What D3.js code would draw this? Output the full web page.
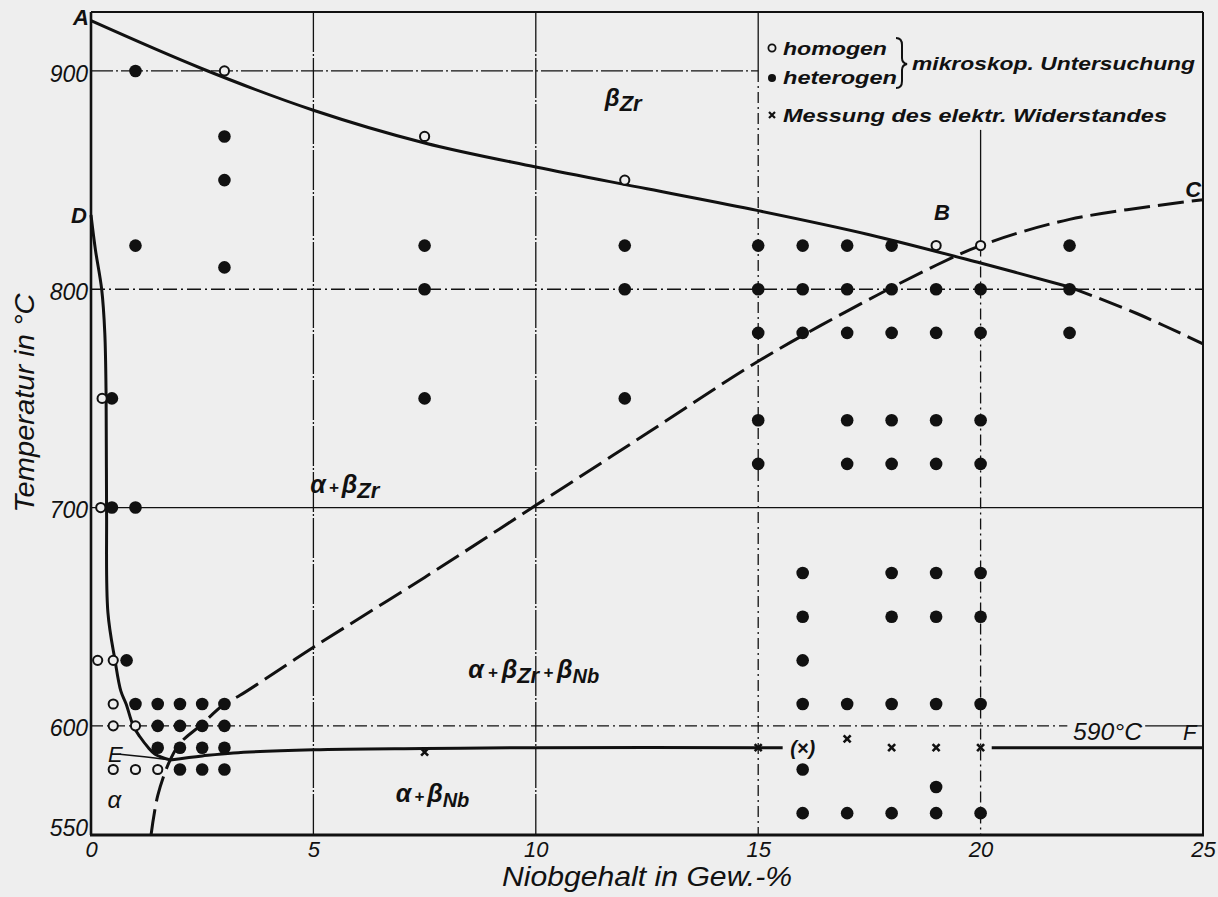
<!DOCTYPE html>
<html>
<head>
<meta charset="utf-8">
<script src="https://cdn.jsdelivr.net/npm/d3@7"></script>
<style>
  body { margin: 0; background: #eeeeee; }
  svg { display: block; }
  text { font-family: "Liberation Sans", Arial, sans-serif; font-style: italic; fill: #111; }
</style>
</head>
<body>
<div id="chart"></div>
<script>
// Zr-Nb Zustandsschaubild: Niobgehalt (Gew.-%) gegen Temperatur (°C)

const nbDomain = [0, 25];
const tempDomain = [550, 927];
const xTicks = [0, 5, 10, 15, 20, 25];
const yTicks = [550, 600, 700, 800, 900];

// phase boundaries as [Nb %, °C]
const curveAB = [[0, 923], [2.5, 901], [5, 882], [7.5, 867], [10, 856], [12.5, 846], [15, 836],
  [17.5, 825], [20, 812], [22, 801]];
const curveABdashed = [[22, 801], [23.5, 789], [25, 775]];
const curveC = [[1.35, 550], [1.5, 568], [1.75, 583], [2, 592], [2.45, 600], [3, 610], [3.35, 614],
  [5, 636], [7.5, 668], [10, 701], [12.5, 734], [15, 767], [17, 790], [19, 811], [20, 820],
  [22, 832], [25, 841]];
const curveD = [[0, 834], [0.1, 818], [0.24, 800], [0.31, 780], [0.34, 750], [0.35, 700],
  [0.38, 652], [0.54, 630], [0.67, 616], [0.79, 610], [0.95, 600], [1.1, 595], [1.29, 590],
  [1.44, 587], [1.78, 584.4]];
const eutectoidThin = [[0.65, 587], [1.2, 585.8], [1.78, 584.4]];
const eutectoidLeft = [[1.78, 584.4], [2.5, 586.2], [3.2, 587.6], [5, 589], [7.5, 589.6],
  [10, 590], [15.55, 590]];
const eutectoidRight = [[20.25, 590], [25, 590]];

// measurements as [Nb %, °C]
const homogen = [[3, 900], [7.5, 870], [12, 850], [19, 820], [20, 820], [0.25, 750], [0.22, 700],
  [0.15, 630], [0.5, 630], [0.5, 610], [0.5, 600], [1, 600], [0.5, 580], [1, 580], [1.5, 580]];
const heterogen = [[1, 900], [3, 870], [3, 850], [1, 820], [3, 810],
  [7.5, 820], [7.5, 800], [7.5, 750], [12, 820], [12, 800], [12, 750],
  [15, 820], [16, 820], [17, 820], [18, 820], [22, 820],
  [15, 800], [16, 800], [17, 800], [18, 800], [19, 800], [20, 800], [22, 800],
  [15, 780], [16, 780], [17, 780], [18, 780], [19, 780], [20, 780], [22, 780],
  [15, 740], [17, 740], [18, 740], [19, 740], [20, 740],
  [15, 720], [17, 720], [18, 720], [19, 720], [20, 720],
  [0.47, 750], [0.47, 700], [1, 700], [0.8, 630],
  [1, 610], [1.5, 610], [2, 610], [2.5, 610], [3, 610],
  [1.5, 600], [2, 600], [2.5, 600], [3, 600],
  [1.5, 590], [2, 590], [2.5, 590], [3, 590],
  [2, 580], [2.5, 580], [3, 580],
  [16, 670], [18, 670], [19, 670], [20, 670],
  [16, 650], [18, 650], [19, 650], [20, 650], [16, 630],
  [16, 610], [17, 610], [18, 610], [19, 610], [20, 610],
  [16, 580], [19, 572],
  [16, 560], [17, 560], [18, 560], [19, 560], [20, 560]];
const resistance = [[7.5, 588], [15, 590], [17, 594], [18, 590], [19, 590], [20, 590]];
const resistanceUncertain = [[16, 590]];

const W = 1218, H = 897;
const margin = {top: 12, right: 15, bottom: 62, left: 91};
const width = W - margin.left - margin.right;
const height = H - margin.top - margin.bottom;

const svg = d3.select("#chart").append("svg")
  .attr("width", W).attr("height", H);

svg.append("rect").attr("width", W).attr("height", H).attr("fill", "#eeeeee");

const g = svg.append("g")
  .attr("transform", "translate(" + margin.left + "," + margin.top + ")");

const x = d3.scaleLinear().domain(nbDomain).range([0, width]);
const y = d3.scaleLinear().domain(tempDomain).range([height, 0]);

const ink = "#111";

// grid lines
function hLine(t, x0, x1, dash, sw) {
  g.append("line")
    .attr("x1", x(x0)).attr("x2", x(x1))
    .attr("y1", y(t)).attr("y2", y(t))
    .attr("stroke", ink).attr("stroke-width", sw || 1.3)
    .attr("stroke-dasharray", dash || null);
}
function vLine(n, t0, t1, dash, sw) {
  g.append("line")
    .attr("x1", x(n)).attr("x2", x(n))
    .attr("y1", y(t0)).attr("y2", y(t1))
    .attr("stroke", ink).attr("stroke-width", sw || 1.3)
    .attr("stroke-dasharray", dash || null);
}
vLine(5, 927, 550, "40,2,2,2");
vLine(10, 927, 550, "40,2,2,2");
vLine(15, 927, 900);
vLine(15, 900, 550, "11,4,2,4");
vLine(20, 873, 820);
vLine(20, 820, 550, "11,4,2,4");
hLine(900, 0, 15, "22,3,2,3");
hLine(800, 0, 25, "14,4,2,4");
hLine(700, 0, 25);
hLine(600, 0, 21.95, "12,4,2,4");
hLine(600, 23.7, 25);

// frame
g.append("line").attr("x1", 0).attr("x2", 0).attr("y1", 0).attr("y2", height)
  .attr("stroke", ink).attr("stroke-width", 2.6);
g.append("line").attr("x1", -1).attr("x2", width + 1).attr("y1", height).attr("y2", height)
  .attr("stroke", ink).attr("stroke-width", 2.8);
g.append("line").attr("x1", 0).attr("x2", width).attr("y1", 0).attr("y2", 0)
  .attr("stroke", ink).attr("stroke-width", 1.8);
g.append("line").attr("x1", width).attr("x2", width).attr("y1", 0).attr("y2", height)
  .attr("stroke", ink).attr("stroke-width", 2);

// axes (labels only)
const xAxis = d3.axisBottom(x).tickValues(xTicks).tickSize(0).tickPadding(6);
const yAxis = d3.axisLeft(y).tickValues(yTicks).tickSize(0).tickPadding(3);

const gx = g.append("g").attr("transform", "translate(0," + height + ")").call(xAxis);
gx.select(".domain").remove();
gx.selectAll("text").style("font-size", "22px").style("font-family", null).attr("fill", ink);

const gy = g.append("g").call(yAxis);
gy.select(".domain").remove();
gy.selectAll("text").style("font-size", "23px").style("font-family", null).attr("fill", ink)
  .attr("dy", d => d === 550 ? "0.02em" : "0.44em");

// axis titles
svg.append("text")
  .attr("x", margin.left + width / 2).attr("y", 886)
  .attr("text-anchor", "middle")
  .attr("textLength", 290).attr("lengthAdjust", "spacingAndGlyphs")
  .style("font-size", "27px")
  .text("Niobgehalt in Gew.-%");

svg.append("text")
  .attr("transform", "translate(34,403) rotate(-90)")
  .attr("text-anchor", "middle")
  .attr("textLength", 219).attr("lengthAdjust", "spacingAndGlyphs")
  .style("font-size", "27px")
  .text("Temperatur in °C");

// phase boundaries
const line = d3.line()
  .x(d => x(d[0])).y(d => y(d[1]))
  .curve(d3.curveCatmullRom.alpha(0.5));

function drawCurve(data, sw, dash) {
  g.append("path").datum(data)
    .attr("d", line)
    .attr("fill", "none")
    .attr("stroke", ink)
    .attr("stroke-width", sw)
    .attr("stroke-linecap", "butt")
    .attr("stroke-dasharray", dash || null);
}
drawCurve(curveAB, 3);
drawCurve(curveABdashed, 3, "24,8");
drawCurve(curveC, 3, "26,8");
drawCurve(curveD, 3);
drawCurve(eutectoidThin, 1.5);
drawCurve(eutectoidLeft, 3);
drawCurve(eutectoidRight, 3);

// measurements
g.selectAll(".het").data(heterogen).enter().append("circle")
  .attr("class", "het")
  .attr("cx", d => x(d[0])).attr("cy", d => y(d[1]))
  .attr("r", 6.3).attr("fill", ink);

g.selectAll(".hom").data(homogen).enter().append("circle")
  .attr("class", "hom")
  .attr("cx", d => x(d[0])).attr("cy", d => y(d[1]))
  .attr("r", 4.6).attr("fill", "#eeeeee").attr("stroke", ink).attr("stroke-width", 2);

const cross = "M-3.5,-3.5L3.5,3.5M3.5,-3.5L-3.5,3.5";
g.selectAll(".res").data(resistance).enter().append("path")
  .attr("class", "res")
  .attr("transform", d => "translate(" + x(d[0]) + "," + y(d[1]) + ")")
  .attr("d", cross).attr("stroke", ink).attr("stroke-width", 2.6);

g.selectAll(".resq").data(resistanceUncertain).enter().append("text")
  .attr("class", "resq")
  .attr("x", d => x(d[0])).attr("y", d => y(d[1]) + 7)
  .attr("text-anchor", "middle")
  .style("font-size", "20px").style("font-weight", "bold")
  .text("(×)");

// region labels: parts [text, size, isSubscript, dx]
function label(px, py, parts) {
  const t = g.append("text").attr("x", px).attr("y", py).style("font-weight", "bold");
  let sub = false;
  parts.forEach(p => {
    const ts = t.append("tspan").text(p[0]).style("font-size", p[1] + "px");
    let dy = 0;
    if (p[2] && !sub) dy = 5;
    if (!p[2] && sub) dy = -5;
    sub = p[2];
    if (dy) ts.attr("dy", dy);
    if (p[3]) ts.attr("dx", p[3]);
  });
  return t;
}
const P = (n, t) => [x(n), y(t)];

label(...P(11.55, 884), [["β", 24], ["Zr", 22, true, 0]]);
label(...P(4.93, 706.5), [["α", 25], ["+", 17, false, 3], ["β", 25, false, 3], ["Zr", 22, true, 0]]);
label(...P(8.48, 622), [["α", 25], ["+", 17, false, 4], ["β", 25, false, 4], ["Zr", 22, true, 0],
  ["+", 17, false, 4], ["β", 25, false, 4], ["Nb", 20, true, 0]]);
label(...P(6.85, 565), [["α", 25], ["+", 17, false, 3], ["β", 25, false, 3], ["Nb", 20, true, 0]]);
label(...P(0.37, 562.5), [["α", 24]]).style("font-weight", "normal");

// point letters
function letter(px, py, s, anchor) {
  return g.append("text").attr("x", px).attr("y", py)
    .attr("text-anchor", anchor || "start")
    .style("font-size", "22px").style("font-weight", "bold").text(s);
}
letter(x(0) - 2, y(921), "A", "end");
letter(x(0) - 4, y(830.5), "D", "end");
letter(x(0.38), y(583.5), "E").style("font-weight", "normal");
letter(x(18.95), y(831.7), "B");
letter(x(24.6), y(842.3), "C");
letter(x(24.55), y(593.5), "F").style("font-weight", "normal");

g.append("text")
  .attr("x", x(22.08)).attr("y", y(593.5))
  .style("font-size", "23px")
  .attr("textLength", 69).attr("lengthAdjust", "spacingAndGlyphs")
  .text("590°C");

// legend
const lg = svg.append("g");
const lx = 772;
lg.append("circle").attr("cx", lx).attr("cy", 48).attr("r", 3.6)
  .attr("fill", "#eeeeee").attr("stroke", ink).attr("stroke-width", 1.8);
lg.append("circle").attr("cx", lx).attr("cy", 78).attr("r", 4).attr("fill", ink);
lg.append("path").attr("transform", "translate(" + lx + ",115)")
  .attr("d", "M-3,-3L3,3M3,-3L-3,3").attr("stroke", ink).attr("stroke-width", 2.2);

function legendText(px, py, len, s) {
  lg.append("text").attr("x", px).attr("y", py)
    .attr("textLength", len).attr("lengthAdjust", "spacingAndGlyphs")
    .style("font-size", "19px").style("font-weight", "bold")
    .text(s);
}
legendText(783, 55, 104, "homogen");
legendText(783, 84, 114, "heterogen");
legendText(912, 70, 283, "mikroskop. Untersuchung");
legendText(783, 122, 384, "Messung des elektr. Widerstandes");

lg.append("path")
  .attr("d", "M896,38 Q902,38 902,45 L902,58 Q902,63 907,64 Q902,65 902,70 L902,81 Q902,88 896,88")
  .attr("fill", "none").attr("stroke", ink).attr("stroke-width", 2);
</script>
</body>
</html>
